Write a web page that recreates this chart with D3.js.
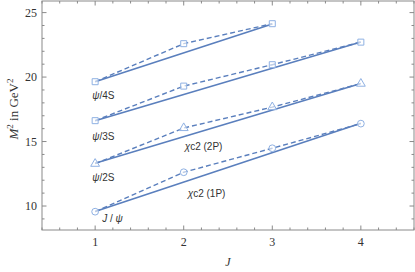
<!DOCTYPE html>
<html>
<head>
<meta charset="utf-8">
<script src="https://cdn.jsdelivr.net/npm/d3@7"></script>
<style>
  body { margin: 0; background: #fff; }
  svg { display: block; }
</style>
</head>
<body>
<svg></svg>
<script>
// J values of the points
const jValues = [1, 2, 3, 4];

// measured masses squared (GeV^2), dashed lines with markers
const jpsi1P = [9.56, 12.62, 14.48, 16.39];
const psi2S = [13.28, 16.05, 17.67, 19.49];
const psi3S = [16.62, 19.30, 20.96, 22.71];
const psi4S = [19.64, 22.59, 24.14];

// Regge fits, [J start, J end] -> [M^2 start, M^2 end], solid lines
const fitJ = [[1, 4], [1, 4], [1, 4], [1, 3]];
const fitM2 = [[9.58, 16.42], [13.32, 19.50], [16.62, 22.72], [19.64, 24.12]];

const seriesNames = ["1P", "2S", "3S", "4S"];
const markerKinds = ["circle", "triangle", "square", "square"];

const xTicks = [1, 2, 3, 4];
const yTicks = [10, 15, 20, 25];

function main() {
  const width = 415, height = 272;
  const left = 42, right = 414, top = 1, bottom = 230;
  const lineColor = "#5a7fbd";
  const markColor = "#8fb1e3";
  const frameColor = "#8a8a8a";

  const svg = d3.select("svg").attr("width", width).attr("height", height);

  const x = d3.scaleLinear().domain([0.4, 4.6]).range([left, right]);
  const y = d3.scaleLinear().domain([8.14, 25.9]).range([bottom, top]);

  // frame
  svg.append("rect")
    .attr("x", left).attr("y", top)
    .attr("width", right - left).attr("height", bottom - top)
    .attr("fill", "none").attr("stroke", frameColor).attr("stroke-width", 1);

  const xMinor = d3.range(0.4, 4.61, 0.2).filter(v => Math.abs(v - Math.round(v)) > 0.01);
  const yMinor = d3.range(9, 26, 1).filter(v => v % 5 !== 0);

  const ticks = svg.append("g").attr("stroke", frameColor).attr("stroke-width", 1);
  xTicks.forEach(v => {
    ticks.append("line").attr("x1", x(v)).attr("x2", x(v)).attr("y1", bottom).attr("y2", bottom - 4.5);
    ticks.append("line").attr("x1", x(v)).attr("x2", x(v)).attr("y1", top).attr("y2", top + 4.5);
  });
  xMinor.forEach(v => {
    ticks.append("line").attr("x1", x(v)).attr("x2", x(v)).attr("y1", bottom).attr("y2", bottom - 2.5);
    ticks.append("line").attr("x1", x(v)).attr("x2", x(v)).attr("y1", top).attr("y2", top + 2.5);
  });
  yTicks.forEach(v => {
    ticks.append("line").attr("x1", left).attr("x2", left + 4.5).attr("y1", y(v)).attr("y2", y(v));
    ticks.append("line").attr("x1", right).attr("x2", right - 4.5).attr("y1", y(v)).attr("y2", y(v));
  });
  yMinor.forEach(v => {
    ticks.append("line").attr("x1", left).attr("x2", left + 2.5).attr("y1", y(v)).attr("y2", y(v));
    ticks.append("line").attr("x1", right).attr("x2", right - 2.5).attr("y1", y(v)).attr("y2", y(v));
  });

  const tickFont = "'Liberation Serif', 'DejaVu Serif', serif";
  svg.append("g").selectAll("text").data(xTicks).enter().append("text")
    .attr("x", d => x(d)).attr("y", bottom + 16)
    .attr("text-anchor", "middle")
    .attr("font-family", tickFont).attr("font-size", 12).attr("fill", "#333")
    .text(d => d);
  svg.append("g").selectAll("text").data(yTicks).enter().append("text")
    .attr("x", left - 5).attr("y", d => y(d) + 4)
    .attr("text-anchor", "end")
    .attr("font-family", tickFont).attr("font-size", 12).attr("fill", "#333")
    .text(d => d);

  // axis labels
  svg.append("text")
    .attr("x", x(2.5)).attr("y", 266)
    .attr("text-anchor", "middle")
    .attr("font-family", tickFont).attr("font-style", "italic").attr("font-size", 12).attr("fill", "#333")
    .text("J");

  const yl = svg.append("text")
    .attr("transform", "translate(18,109) rotate(-90)")
    .attr("text-anchor", "middle")
    .attr("font-family", tickFont).attr("font-size", 13).attr("fill", "#333");
  yl.append("tspan").attr("font-style", "italic").text("M");
  yl.append("tspan").attr("font-size", 9).attr("dy", -5).text("2");
  yl.append("tspan").attr("dy", 5).text(" in GeV");
  yl.append("tspan").attr("font-size", 9).attr("dy", -5).text("2");

  const dataSets = [jpsi1P, psi2S, psi3S, psi4S];

  // solid fits
  const line = d3.line().x(d => x(d[0])).y(d => y(d[1]));
  fitJ.forEach((js, i) => {
    svg.append("path")
      .attr("d", line(js.map((j, k) => [j, fitM2[i][k]])))
      .attr("fill", "none").attr("stroke", lineColor).attr("stroke-width", 1.6);
  });

  // dashed data lines
  dataSets.forEach(vals => {
    svg.append("path")
      .attr("d", line(vals.map((v, k) => [jValues[k], v])))
      .attr("fill", "none").attr("stroke", lineColor).attr("stroke-width", 1.4)
      .attr("stroke-dasharray", "5,3");
  });

  // markers
  const symbolTypes = { circle: d3.symbolCircle, triangle: d3.symbolTriangle, square: d3.symbolSquare };
  dataSets.forEach((vals, i) => {
    const sym = d3.symbol().type(symbolTypes[markerKinds[i]]).size(markerKinds[i] === "triangle" ? 34 : 36);
    svg.append("g").selectAll("path").data(vals).enter().append("path")
      .attr("transform", (d, k) => `translate(${x(jValues[k])},${y(d)})`)
      .attr("d", sym)
      .attr("fill", "#fff").attr("fill-opacity", 0.6)
      .attr("stroke", markColor).attr("stroke-width", 1);
  });

  // series labels
  const labelFont = "'Liberation Sans', Arial, sans-serif";
  const labels = [
    { j: 1, m: 8.75, parts: [["J", true], [" / ", false], ["ψ", true]], dx: 7 },
    { j: 1, m: 11.95, parts: [["ψ", true], ["/2S", false]], dx: -3 },
    { j: 1, m: 15.1, parts: [["ψ", true], ["/3S", false]], dx: -3 },
    { j: 1, m: 18.3, parts: [["ψ", true], ["/4S", false]], dx: -3 },
    { j: 2, m: 10.7, parts: [["χ", true], ["c2 (1P)", false]], dx: 4 },
    { j: 2, m: 14.35, parts: [["χ", true], ["c2 (2P)", false]], dx: 1 }
  ];
  labels.forEach(l => {
    const t = svg.append("text")
      .attr("x", x(l.j) + l.dx).attr("y", y(l.m))
      .attr("font-family", labelFont).attr("font-size", 10).attr("fill", "#333");
    l.parts.forEach(p => t.append("tspan").attr("font-style", p[1] ? "italic" : "normal").text(p[0]));
  });
}
main();
</script>
</body>
</html>
